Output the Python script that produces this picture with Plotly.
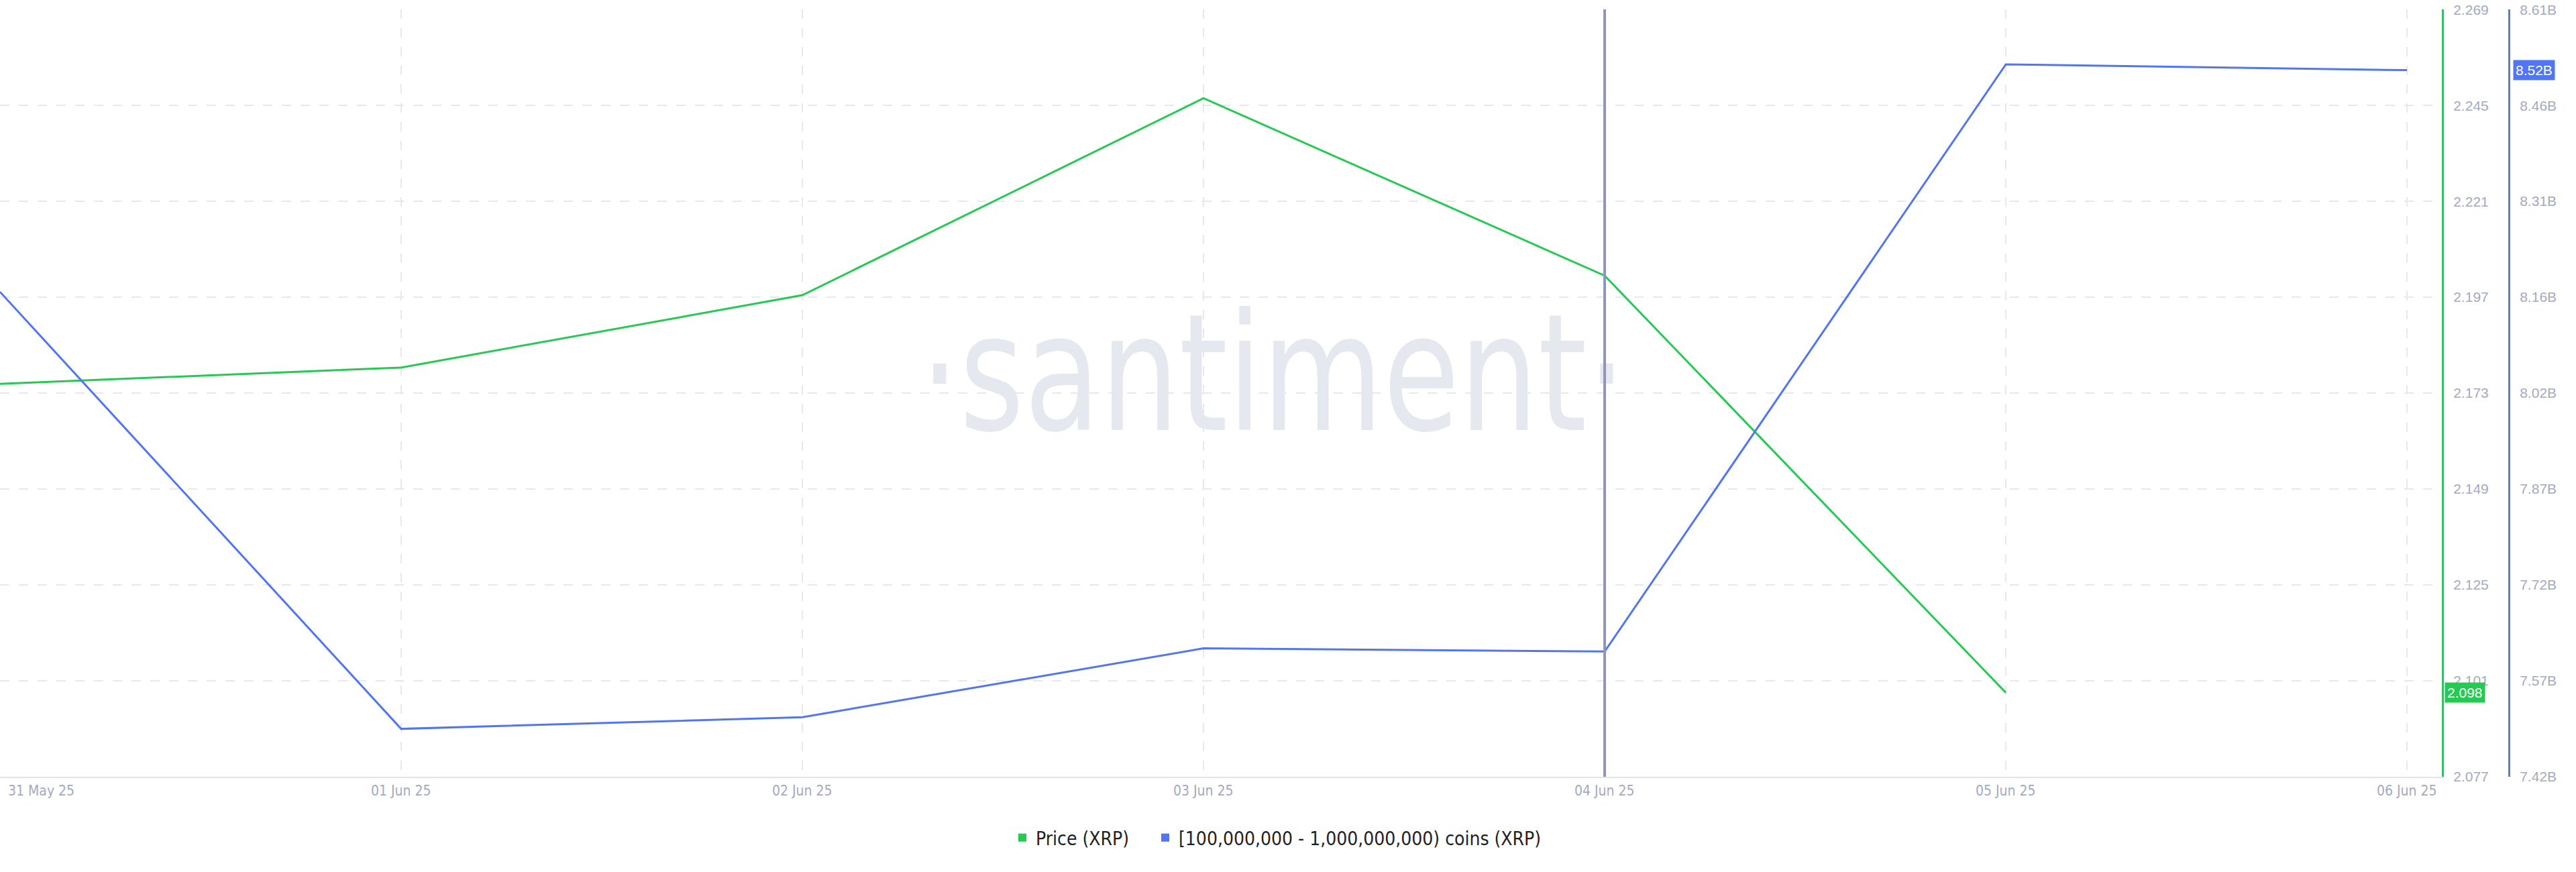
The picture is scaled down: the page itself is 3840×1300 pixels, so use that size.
import plotly.graph_objects as go

# ---------------- data ----------------
dates = ["2025-05-31", "2025-06-01", "2025-06-02", "2025-06-03",
         "2025-06-04", "2025-06-05", "2025-06-06"]
date_labels = ["31 May 25", "01 Jun 25", "02 Jun 25", "03 Jun 25",
               "04 Jun 25", "05 Jun 25", "06 Jun 25"]
price_xrp = [2.1753, 2.1794, 2.1975, 2.2468, 2.2024, 2.098, None]
holdings_b = [8.172, 7.494, 7.512, 7.619, 7.614, 8.525, 8.516]

price_ticks = [2.077, 2.101, 2.125, 2.149, 2.173, 2.197, 2.221, 2.245, 2.269]
holdings_ticks = [7.42, 7.56875, 7.7175, 7.86625, 8.015, 8.16375, 8.3125, 8.46125, 8.61]
holdings_tick_labels = ["7.42B", "7.57B", "7.72B", "7.87B", "8.02B",
                        "8.16B", "8.31B", "8.46B", "8.61B"]
crosshair_date = "2025-06-04"
series_names = ["Price (XRP)", "[100,000,000 - 1,000,000,000) coins (XRP)"]
watermark_text = "·santiment·"
watermark_at = ("2025-06-03 04:10", 2.1740)   # centre of the watermark (x date, price scale)

# ---------------- style ----------------
GREEN = "#26C953"
BLUE = "#5275F3"
TICK_COLOR = "#A3A9C2"
GRID = "#E7E7EC"
W, H = 3840, 1300
ML, MR, MT, MB = 0, 60, 14, 142
plot_w = W - ML - MR
plot_h = H - MT - MB
x_dom_end = 3640 / plot_w
y2_pos = 3740 / plot_w
EPS_P = 0.00005
EPS_H = 0.0003
LEGEND_FONT = dict(family="DejaVu Sans Condensed, Liberation Sans, sans-serif", size=28, color="#222222")
legend_y = -(1249 - (H - MB)) / plot_h
GRID_DASH = "14px,14px"

fig = go.Figure()

# watermark (drawn first, beneath the lines)
fig.add_trace(go.Scatter(x=[watermark_at[0]], y=[watermark_at[1]], mode="text",
                         text=[watermark_text], textposition="middle center",
                         textfont=dict(family="Liberation Sans Narrow, DejaVu Sans Condensed, Open Sans, sans-serif",
                                       size=242, color="#E6E8F0"),
                         showlegend=False, hoverinfo="skip", yaxis="y"))

fig.add_trace(go.Scatter(x=dates, y=price_xrp, mode="lines", name=series_names[0],
                         line=dict(color=GREEN, width=3), yaxis="y",
                         showlegend=False, connectgaps=False))
fig.add_trace(go.Scatter(x=dates, y=holdings_b, mode="lines", name=series_names[1],
                         line=dict(color=BLUE, width=3), yaxis="y2",
                         showlegend=False))

# legend squares (one legend per item so the spacing can follow the reference)
fig.add_trace(go.Scatter(x=[None], y=[None], mode="markers", name=series_names[0],
                         marker=dict(symbol="square", size=18, color=GREEN), legend="legend"))
fig.add_trace(go.Scatter(x=[None], y=[None], mode="markers", name=series_names[1],
                         marker=dict(symbol="square", size=18, color=BLUE), legend="legend2"))

# crosshair vertical line
fig.add_shape(type="line", xref="x", yref="paper", x0=crosshair_date, x1=crosshair_date,
              y0=0, y1=1, line=dict(color="#8F94B9", width=4), layer="above")

annotations = []
# x tick labels
for i, (d, lab) in enumerate(zip(dates, date_labels)):
    annotations.append(dict(
        x=d, y=0, xref="x", yref="paper", text=lab, showarrow=False,
        xanchor="left" if i == 0 else "center", yanchor="middle",
        xshift=10 if i == 0 else 0, yshift=-21,
        font=dict(family="Liberation Sans Narrow, DejaVu Sans Condensed, Arial, sans-serif",
                  size=21, color=TICK_COLOR)))

# last value badges
last_price = [p for p in price_xrp if p is not None][-1]
annotations.append(dict(
    x=x_dom_end, y=last_price, xref="paper", yref="y", text=f"{last_price:.3f}",
    showarrow=False, xanchor="left", yanchor="middle", xshift=4,
    bgcolor=GREEN, borderpad=3,
    font=dict(family="Liberation Sans, Arial, sans-serif", size=21, color="white")))
annotations.append(dict(
    x=y2_pos, y=holdings_b[-1], xref="paper", yref="y2", text=f"{holdings_b[-1]:.2f}B",
    showarrow=False, xanchor="left", yanchor="middle", xshift=6,
    bgcolor=BLUE, borderpad=3,
    font=dict(family="Liberation Sans, Arial, sans-serif", size=21, color="white")))

fig.update_layout(
    width=W, height=H,
    margin=dict(l=ML, r=MR, t=MT, b=MB),
    paper_bgcolor="white", plot_bgcolor="white",
    font=dict(family="Liberation Sans, Arial, sans-serif", color=TICK_COLOR, size=21),
    xaxis=dict(
        type="date", domain=[0, x_dom_end],
        range=["2025-05-31 00:00", "2025-06-06 02:05"],
        tickvals=dates, showticklabels=False, ticks="",
        showgrid=True, gridcolor=GRID, griddash=GRID_DASH, gridwidth=2,
        showline=True, linecolor="#E3E3E8", linewidth=2, zeroline=False,
    ),
    yaxis=dict(
        range=[price_ticks[0] - EPS_P, price_ticks[-1] + EPS_P], side="right", anchor="x",
        tickvals=price_ticks, tickformat=".3f",
        showgrid=True, gridcolor=GRID, griddash=GRID_DASH, gridwidth=2,
        showline=True, linecolor="#3CBB6A", linewidth=3, ticks="",
        zeroline=False, ticklabelstandoff=10,
        tickfont=dict(size=21, color=TICK_COLOR),
    ),
    yaxis2=dict(
        range=[holdings_ticks[0] - EPS_H, holdings_ticks[-1] + EPS_H], side="right",
        overlaying="y", anchor="free", position=y2_pos,
        tickvals=holdings_ticks, ticktext=holdings_tick_labels,
        showgrid=False, showline=True, linecolor="#5B7BD6", linewidth=3, ticks="",
        zeroline=False, ticklabelstandoff=10,
        tickfont=dict(size=21, color=TICK_COLOR),
    ),
    legend=dict(
        orientation="h", x=(1529 - 25) / plot_w, xanchor="left",
        y=legend_y, yanchor="middle", font=LEGEND_FONT,
        itemsizing="constant", bgcolor="rgba(0,0,0,0)",
    ),
    legend2=dict(
        orientation="h", x=(1742 - 25) / plot_w, xanchor="left",
        y=legend_y, yanchor="middle", font=LEGEND_FONT,
        itemsizing="constant", bgcolor="rgba(0,0,0,0)",
    ),
    annotations=annotations,
    showlegend=True,
    hovermode=False,
)

post = """
document.body.style.margin='0';
document.body.style.overflow='hidden';
var t = document.querySelector('.scatterlayer .trace .textpoint text');
if (t) {
  var b = t.getBBox();
  var cx = b.x + b.width / 2;
  var prev = t.getAttribute('transform') || '';
  t.setAttribute('transform', prev + ' translate(' + cx + ',0) scale(0.85,1) translate(' + (-cx) + ',0)');
}
"""
fig.write_html("out.html", config={"displayModeBar": False}, post_script=post)
